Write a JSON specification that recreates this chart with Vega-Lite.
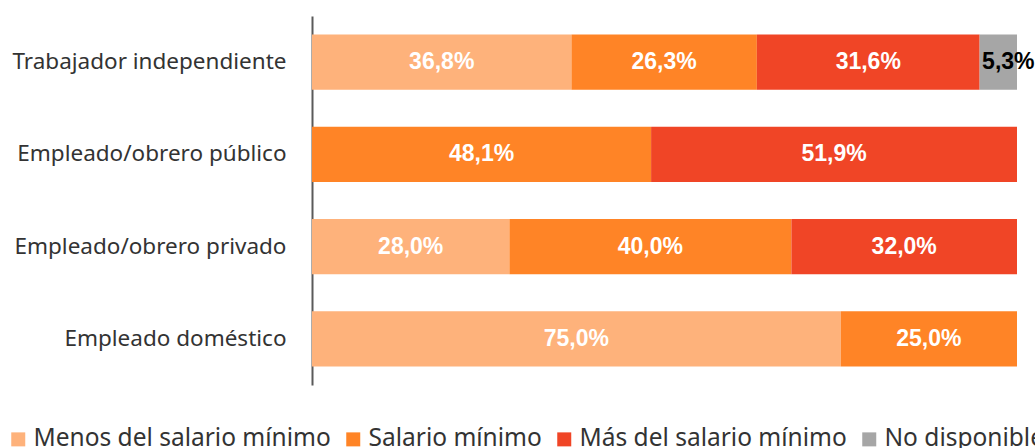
{
  "$schema": "https://vega.github.io/schema/vega-lite/v6.json",
  "width": 705,
  "height": 369,
  "autosize": {"type": "none"},
  "padding": {"left": 312, "top": 16, "right": 18, "bottom": 63},
  "background": "white",
  "config": {
    "view": {"stroke": null},
    "locale": {"number": {"decimal": ",", "thousands": ".", "grouping": [3], "currency": ["", " €"]}}
  },
  "data": {
    "values": [
      {"grp": "Trabajador independiente", "cat": "Menos del salario mínimo", "ord": 1, "v": 0.368},
      {"grp": "Trabajador independiente", "cat": "Salario mínimo", "ord": 2, "v": 0.263},
      {"grp": "Trabajador independiente", "cat": "Más del salario mínimo", "ord": 3, "v": 0.316},
      {"grp": "Trabajador independiente", "cat": "No disponible", "ord": 4, "v": 0.053},
      {"grp": "Empleado/obrero público", "cat": "Salario mínimo", "ord": 2, "v": 0.481},
      {"grp": "Empleado/obrero público", "cat": "Más del salario mínimo", "ord": 3, "v": 0.519},
      {"grp": "Empleado/obrero privado", "cat": "Menos del salario mínimo", "ord": 1, "v": 0.28},
      {"grp": "Empleado/obrero privado", "cat": "Salario mínimo", "ord": 2, "v": 0.40},
      {"grp": "Empleado/obrero privado", "cat": "Más del salario mínimo", "ord": 3, "v": 0.32},
      {"grp": "Empleado doméstico", "cat": "Menos del salario mínimo", "ord": 1, "v": 0.75},
      {"grp": "Empleado doméstico", "cat": "Salario mínimo", "ord": 2, "v": 0.25}
    ]
  },
  "transform": [
    {"stack": "v", "groupby": ["grp"], "sort": [{"field": "ord"}], "as": ["v0", "v1"]},
    {"calculate": "(datum.v0 + datum.v1) / 2", "as": "vmid"}
  ],
  "encoding": {
    "y": {
      "field": "grp",
      "type": "nominal",
      "sort": ["Trabajador independiente", "Empleado/obrero público", "Empleado/obrero privado", "Empleado doméstico"],
      "scale": {"paddingInner": 0.4, "paddingOuter": 0.2},
      "axis": {
        "title": null,
        "domain": true,
        "domainColor": "#5a5a5a",
        "domainWidth": 2,
        "ticks": false,
        "labelFont": "Noto Sans",
        "labelFontSize": 22.5,
        "labelColor": "#333333",
        "labelPadding": 26,
        "labelLimit": 400
      }
    }
  },
  "layer": [
    {
      "mark": {"type": "bar"},
      "encoding": {
        "x": {"field": "v0", "type": "quantitative", "scale": {"domain": [0, 1]}, "axis": null},
        "x2": {"field": "v1"},
        "color": {
          "field": "cat",
          "type": "nominal",
          "scale": {
            "domain": ["Menos del salario mínimo", "Salario mínimo", "Más del salario mínimo", "No disponible"],
            "range": ["#FEB27B", "#FF8426", "#F04526", "#A6A6A6"]
          },
          "legend": {
            "title": null,
            "orient": "none",
            "direction": "horizontal",
            "legendX": -306,
            "legendY": 411,
            "symbolType": "square",
            "symbolSize": 196,
            "symbolStrokeWidth": 0,
            "symbolOpacity": 1,
            "labelFont": "Noto Sans",
            "labelFontSize": 24.5,
            "labelColor": "#333333",
            "labelOffset": 3,
            "labelLimit": 400,
            "columnPadding": 10,
            "padding": 0
          }
        }
      }
    },
    {
      "transform": [{"filter": "datum.cat !== 'No disponible'"}],
      "mark": {"type": "text", "font": "Liberation Sans", "fontWeight": "bold", "fontSize": 23, "align": "center", "baseline": "middle", "color": "white"},
      "encoding": {
        "x": {"field": "vmid", "type": "quantitative"},
        "text": {"field": "v", "type": "quantitative", "format": ".1%"}
      }
    },
    {
      "transform": [{"filter": "datum.cat === 'No disponible'"}],
      "mark": {"type": "text", "font": "Liberation Sans", "fontWeight": "bold", "fontSize": 23, "align": "center", "baseline": "middle", "color": "black", "dx": 10},
      "encoding": {
        "x": {"field": "vmid", "type": "quantitative"},
        "text": {"field": "v", "type": "quantitative", "format": ".1%"}
      }
    }
  ]
}
